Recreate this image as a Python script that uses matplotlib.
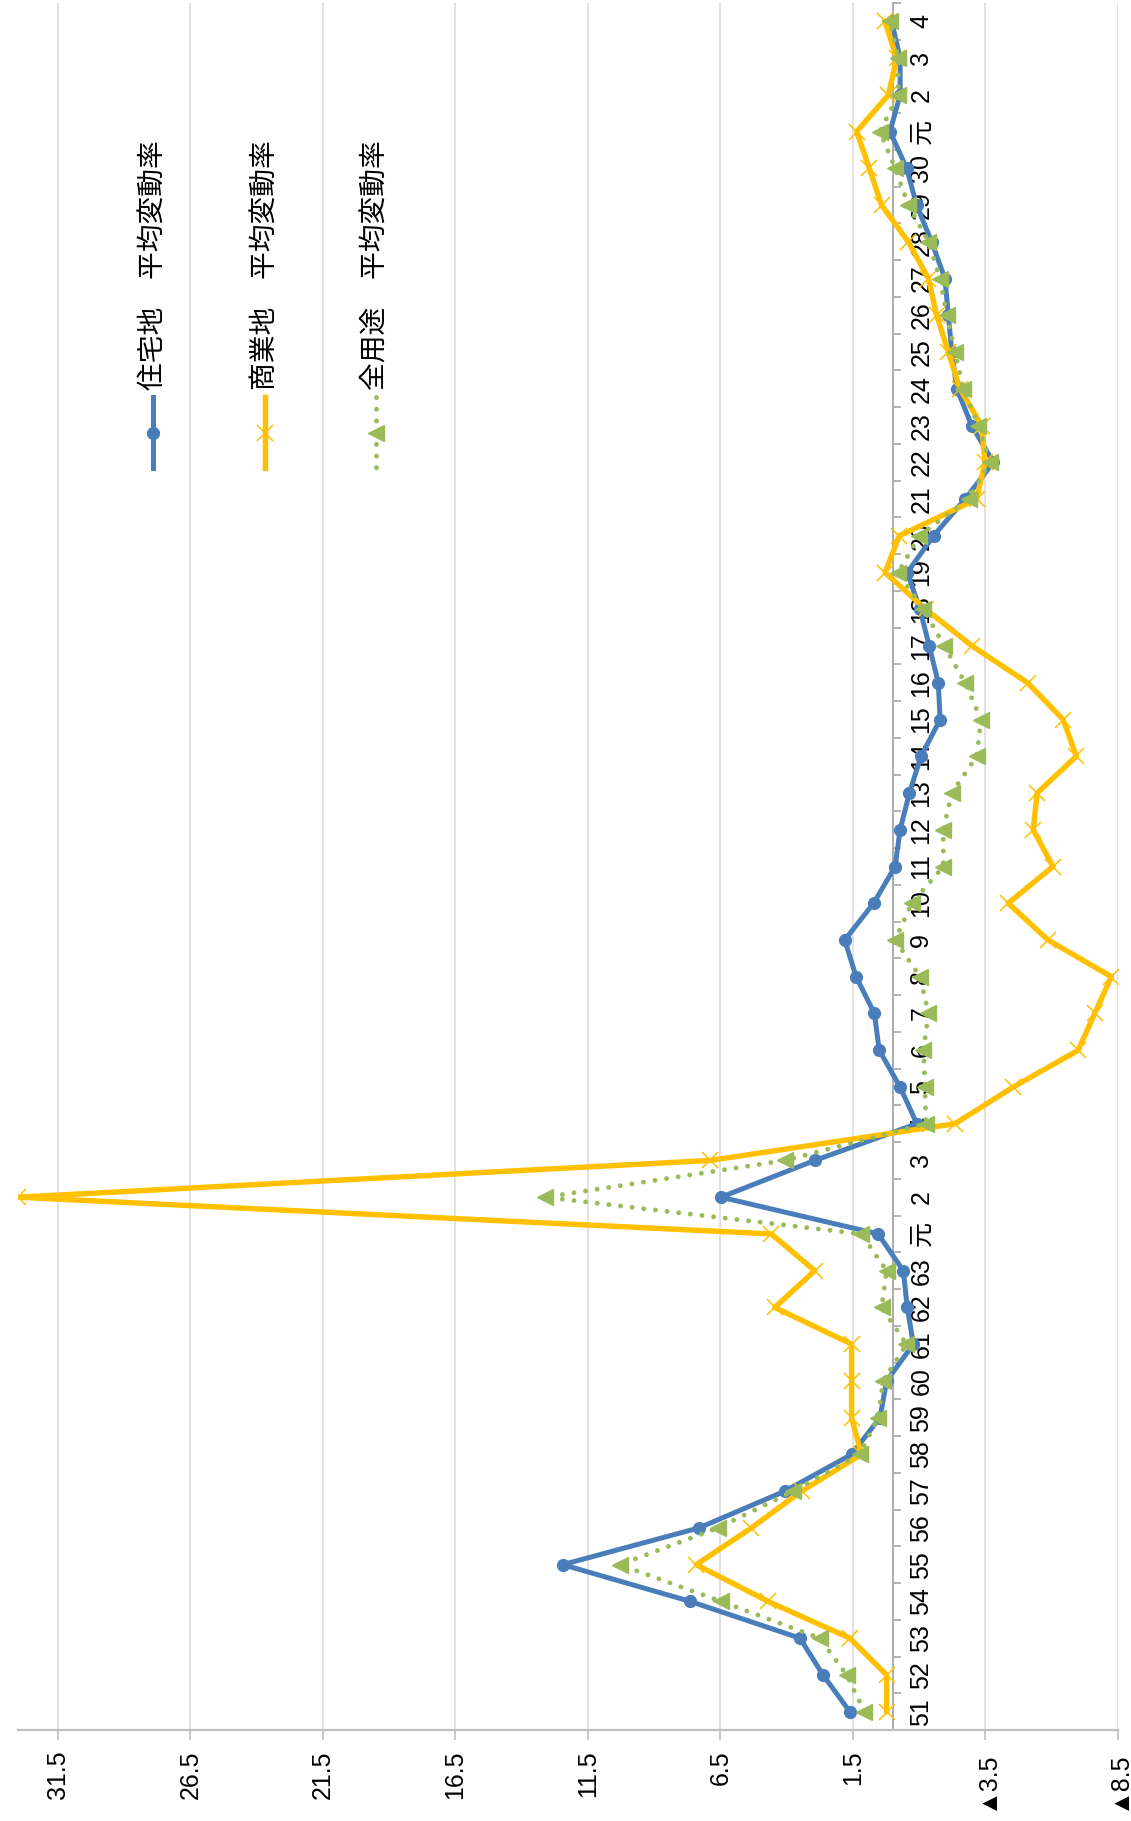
import numpy as np
import matplotlib.pyplot as plt
from matplotlib.lines import Line2D

# 年次（昭和51年～令和4年）
categories = ['51', '52', '53', '54', '55', '56', '57', '58', '59', '60', '61', '62', '63',
              '元', '2', '3', '4', '5', '6', '7', '8', '9', '10', '11', '12', '13', '14', '15',
              '16', '17', '18', '19', '20', '21', '22', '23', '24', '25', '26', '27', '28', '29', '30',
              '元', '2', '3', '4']

# 平均変動率（%）
residential = [1.62, 2.63, 3.5, 7.64, 12.45, 7.31, 4.07, 1.55, 0.48, 0.23, -0.78, -0.55, -0.40,
               0.55, 6.48, 2.94, -0.91, -0.28, 0.51, 0.69, 1.38, 1.81, 0.72, -0.09, -0.28, -0.63,
               -1.07, -1.79, -1.72, -1.38, -1.03, -0.55, -1.54, -2.73, -3.8, -2.98, -2.42, -2.23,
               -2.1, -1.97, -1.47, -0.9, -0.53, 0.1, -0.28, -0.28, 0.04]
commercial = [0.23, 0.23, 1.62, 4.70, 7.41, 5.33, 3.44, 1.18, 1.55, 1.55, 1.55, 4.45, 2.94,
              4.58, 33.0, 6.9, -2.35, -4.55, -7.0, -7.62, -8.25, -5.86, -4.36, -6.05, -5.3, -5.45,
              -6.93, -6.43, -5.09, -3.0, -1.25, 0.29, -0.25, -3.17, -3.48, -3.36, -2.54, -2.1,
              -1.66, -1.35, -0.59, 0.42, 0.88, 1.36, 0.16, -0.15, 0.29]
all_use = [1.07, 1.74, 2.75, 6.47, 10.3, 6.59, 3.76, 1.24, 0.55, 0.36, -0.52, 0.42, 0.23,
           1.18, 13.12, 4.07, -1.25, -1.22, -1.16, -1.35, -1.03, -0.09, -0.72, -1.91, -1.91, -2.23,
           -3.17, -3.33, -2.73, -1.95, -1.16, -0.21, -1.0, -2.86, -3.67, -3.23, -2.67, -2.35,
           -2.04, -1.79, -1.35, -0.59, -0.09, 0.48, -0.21, -0.21, 0.1]

value_ticks = [31.5, 26.5, 21.5, 16.5, 11.5, 6.5, 1.5, -3.5, -8.5]
legend_labels = ['住宅地　平均変動率', '商業地　平均変動率', '全用途　平均変動率']

W, H = 1131, 1821
fig = plt.figure(figsize=(W / 100, H / 100), dpi=100)
ax = fig.add_axes([18 / W, 91 / H, 1100 / W, 1727 / H])

num_font = ['Liberation Sans', 'Noto Sans CJK JP']
jp_font = ['Noto Sans CJK JP', 'DejaVu Sans']

blue = '#4a7ebb'
yellow = '#ffc000'
green = '#9bbb59'
dots = (0, (0.01, 2.4))

styles = [
    dict(color=blue, lw=3.6, marker='o', ms=8.5, ls='-'),
    dict(color=yellow, lw=3.9, marker='x', ms=12, mew=1.1, ls='-'),
    dict(color=green, lw=3.5, marker='<', ms=11, ls=dots, dash_capstyle='round'),
]

y = np.arange(len(categories))
for i, (vals, st) in enumerate(zip([residential, commercial, all_use], styles)):
    ax.plot(vals, y, zorder=3 + i, **st)

ax.set_xlim(33.0, -8.5)
ax.set_ylim(-0.5, len(categories) - 0.5)

# 値軸（下）
ax.set_xticks(value_ticks)
ax.set_xticklabels([f'{v:.1f}' if v >= 0 else f'▲{-v:.1f}' for v in value_ticks],
                   family=num_font, fontsize=18)
ax.tick_params(axis='x', length=7, width=1.2, color='#bfbfbf', pad=8, labelrotation=90)
ax.grid(axis='x', color='#d9d9d9', lw=1.1)
ax.set_axisbelow(True)

# 項目軸（値0の位置）
ax.spines['top'].set_visible(False)
ax.spines['left'].set_visible(False)
ax.spines['bottom'].set_color('#bfbfbf')
ax.spines['bottom'].set_linewidth(1.6)
ax.spines['right'].set_position(('data', 0))
ax.spines['right'].set_color('#a6a6a6')
ax.spines['right'].set_linewidth(1.3)
ax.yaxis.set_ticks_position('right')
ax.set_yticks(y)
ax.set_yticklabels(categories, family=num_font, fontsize=18)
ax.set_yticks(np.arange(-0.5, len(categories)), minor=True)
ax.tick_params(axis='y', which='major', length=0, pad=12, labelrotation=90)
ax.tick_params(axis='y', which='minor', length=6, width=1.2, color='#a6a6a6', direction='out')
for lab in ax.get_yticklabels():
    lab.set_va('center')

# 凡例（回転）
def px(xp, yp):
    return xp / W, 1 - yp / H

legend_x = [153, 265, 376]
for lx, label, st in zip(legend_x, legend_labels, styles):
    x0, y0 = px(lx, 397)
    x1, y1 = px(lx, 468)
    line_kw = {k: v for k, v in st.items() if k not in ('marker', 'ms', 'mew')}
    fig.add_artist(Line2D([x0, x1], [y0, y1], transform=fig.transFigure, **line_kw))
    mx, my = px(lx, 433)
    fig.add_artist(Line2D([mx], [my], transform=fig.transFigure, color=st['color'],
                          marker=st['marker'], ms=st['ms'], mew=st.get('mew', 1.0), ls='none'))
    tx, ty = px(lx, 390)
    fig.text(tx, ty, label, rotation=90, ha='center', va='bottom',
             family=jp_font, fontsize=20)

fig.savefig('out.png', dpi=100)
